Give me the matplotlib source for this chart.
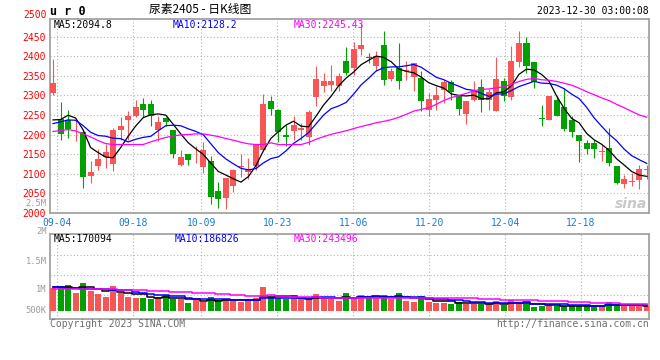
import numpy as np
import pandas as pd
import matplotlib.pyplot as plt

# daily K-line data for ur2405 (09-01 .. 12-29)
open_ = [2306.3, 2240.0, 2238.4, 2221.0, 2207.8, 2094.0, 2119.5, 2142.4, 2126.3, 2211.2,
         2238.4, 2248.6, 2279.1, 2279.1, 2211.2, 2241.8, 2212.9, 2123.7, 2149.3, 2155.0,
         2117.0, 2133.9, 2055.0, 2037.2, 2068.6, 2118.5, 2104.2, 2119.5, 2162.0, 2286.8,
         2263.9, 2199.3, 2208.7, 2212.9, 2194.2, 2296.1, 2323.3, 2325.8, 2323.3, 2388.6,
         2370.0, 2419.2, 2397.0, 2374.2, 2429.4, 2342.0, 2370.0, 2362.3, 2346.2, 2344.5,
         2263.9, 2289.3, 2313.0, 2333.5, 2297.8, 2253.6, 2289.3, 2321.6, 2287.6, 2261.3,
         2336.0, 2295.3, 2384.4, 2433.6, 2384.4, 2242.6, 2238.4, 2289.3, 2270.6, 2236.7,
         2200.2, 2179.0, 2179.0, 2155.7, 2166.2, 2119.5, 2072.8, 2079.3, 2083.9, 2109.3]
high_ = [2392.9, 2282.5, 2262.1, 2238.0, 2212.9, 2133.9, 2164.5, 2176.4, 2217.1, 2245.2,
         2259.6, 2287.6, 2294.4, 2287.6, 2248.6, 2245.2, 2212.9, 2162.0, 2149.3, 2170.5,
         2181.5, 2145.0, 2078.8, 2089.0, 2111.0, 2149.3, 2140.7, 2176.4, 2304.6, 2297.8,
         2266.4, 2225.7, 2248.6, 2229.9, 2263.9, 2374.2, 2357.2, 2378.5, 2357.2, 2423.5,
         2435.3, 2485.0, 2408.2, 2412.4, 2463.4, 2370.0, 2433.6, 2387.0, 2382.7, 2361.5,
         2306.3, 2323.3, 2340.3, 2340.3, 2302.1, 2285.0, 2336.0, 2342.0, 2316.5, 2397.1,
         2344.5, 2426.9, 2463.4, 2448.9, 2384.4, 2276.6, 2299.5, 2299.5, 2319.0, 2248.6,
         2200.2, 2187.4, 2187.4, 2174.7, 2217.1, 2119.5, 2096.6, 2100.8, 2123.7, 2121.2]
low_ = [2302.0, 2187.4, 2190.8, 2183.0, 2062.6, 2075.4, 2109.3, 2113.6, 2106.8, 2187.4,
        2187.4, 2245.2, 2245.2, 2223.1, 2183.2, 2221.4, 2139.9, 2119.5, 2122.1, 2128.0,
        2100.8, 2023.6, 2011.7, 2009.2, 2054.1, 2091.5, 2085.5, 2110.0, 2162.0, 2251.1,
        2181.5, 2172.1, 2185.7, 2187.4, 2174.7, 2272.3, 2308.0, 2310.5, 2310.5, 2353.0,
        2353.0, 2403.9, 2382.7, 2361.5, 2327.5, 2336.0, 2317.3, 2340.3, 2310.5, 2259.6,
        2246.9, 2262.1, 2280.8, 2289.3, 2251.1, 2228.2, 2285.0, 2257.0, 2263.9, 2261.3,
        2286.8, 2289.3, 2372.5, 2357.2, 2319.0, 2221.4, 2238.4, 2246.9, 2208.7, 2194.2,
        2129.7, 2149.3, 2140.7, 2132.3, 2119.5, 2072.8, 2064.3, 2068.6, 2061.8, 2087.2]
close_ = [2331.8, 2202.7, 2214.6, 2222.0, 2091.5, 2104.2, 2139.0, 2156.9, 2212.9, 2221.4,
          2248.6, 2269.8, 2263.9, 2248.6, 2233.3, 2233.3, 2151.8, 2142.4, 2134.8, 2156.0,
          2162.0, 2040.6, 2036.3, 2089.0, 2108.5, 2119.5, 2111.0, 2176.4, 2279.1, 2266.4,
          2206.1, 2193.4, 2225.7, 2216.3, 2257.9, 2342.0, 2336.0, 2337.7, 2348.7, 2357.2,
          2419.2, 2429.4, 2394.6, 2401.4, 2340.3, 2363.2, 2337.7, 2364.7, 2382.7, 2285.0,
          2291.9, 2300.4, 2333.5, 2308.0, 2266.4, 2285.0, 2310.5, 2287.6, 2308.0, 2342.8,
          2297.8, 2386.9, 2433.6, 2374.2, 2333.5, 2240.0, 2299.5, 2246.9, 2215.4, 2206.1,
          2183.2, 2164.5, 2164.5, 2158.3, 2128.0, 2075.4, 2085.5, 2081.8, 2112.7, 2111.8]
volume = [690000, 750000, 790000, 550000, 840000, 600000, 520000, 420000, 750000, 540000,
          420000, 390000, 390000, 370000, 420000, 480000, 350000, 350000, 240000, 320000,
          270000, 420000, 320000, 350000, 350000, 270000, 350000, 390000, 720000, 420000,
          390000, 350000, 390000, 370000, 350000, 510000, 390000, 370000, 300000, 540000,
          390000, 480000, 420000, 390000, 480000, 370000, 540000, 300000, 270000, 450000,
          270000, 250000, 250000, 220000, 270000, 220000, 220000, 200000, 200000, 300000,
          190000, 320000, 240000, 240000, 120000, 150000, 190000, 150000, 150000, 150000,
          150000, 150000, 150000, 150000, 270000, 190000, 150000, 150000, 150000, 150000]

# moving averages before enough bars exist (they use earlier sessions)
ma5_head = [2237.5, 2238.4, 2249.4, 2242.6]
ma10_head = [2228.2, 2232.4, 2237.5, 2236.7, 2223.0, 2206.1, 2197.6, 2195.9, 2190.8]
ma30_head = [2207.8, 2210.4, 2212.9, 2209.5, 2201.9, 2194.2, 2184.9, 2177.2, 2174.7, 2174.7,
             2174.7, 2174.7, 2174.7, 2181.5, 2187.4, 2192.5, 2196.8, 2199.3, 2200.2, 2201.9,
             2201.9, 2198.5, 2195.1, 2190.0, 2185.7, 2180.6, 2176.4, 2174.7, 2174.7]
vma5_head = [720000, 735000, 735000, 705000]
vma10_head = [720000, 720000, 705000, 690000, 675000, 675000, 660000, 660000, 645000]
vma30_head = [670000, 670000, 670000, 670000, 670000, 660000, 660000, 650000, 650000, 640000,
              630000, 630000, 620000, 610000, 600000, 590000, 580000, 570000, 560000, 550000,
              540000, 530000, 520000, 520000, 490000, 490000, 450000, 450000, 450000]

tick_idx = [1, 11, 20, 30, 40, 50, 60, 70]
tick_labels = ['09-04', '09-18', '10-09', '10-23', '11-06', '11-20', '12-04', '12-18']


def moving(values, n, head):
    m = pd.Series(values).rolling(n).mean().to_numpy()
    m[:n - 1] = head
    return m


o = np.array(open_)
h = np.array(high_)
l = np.array(low_)
c = np.array(close_)
v = np.array(volume)
x = np.arange(len(c))
up = c >= o
RED, GREEN = '#f65656', '#00a100'
colors = np.where(up, RED, GREEN)
GRID = '#b4b4b4'
FRAME = '#a3a3a3'
MONO = 'DejaVu Sans Mono'

fig = plt.figure(figsize=(6.6, 3.6), dpi=100)


def px(xp, yp):
    return xp / 660, 1 - yp / 360


ax = fig.add_axes([50 / 660, 1 - 213 / 360, 599 / 660, 194 / 360])
vax = fig.add_axes([50 / 660, 1 - 318.7 / 360, 599 / 660, 84.4 / 360])

tick_pos = [i * 1.01 - 0.45 for i in tick_idx]

# candles
ax.vlines(x, l, h, colors=colors, linewidth=0.8, zorder=3)
body = np.maximum(np.abs(c - o), 1.3)
ax.bar(x, body, bottom=np.minimum(o, c), width=0.8, color=colors, zorder=4)

ax.plot(x, moving(c, 5, ma5_head), color='black', lw=0.9, zorder=5)
ax.plot(x, moving(c, 10, ma10_head), color='#0000ff', lw=0.9, zorder=5)
ax.plot(x, moving(c, 30, ma30_head), color='#ff00ff', lw=0.9, zorder=5)

ax.set_xlim(-0.4, 79.3)
ax.set_ylim(2000, 2495)
ax.set_yticks(np.arange(2000, 2451, 50))
ax.set_xticks(tick_pos)
ax.set_xticklabels(tick_labels)
ax.tick_params(axis='y', length=0, pad=3, labelcolor='#ff0000', labelsize=7)
ax.tick_params(axis='x', length=0, pad=3.5, labelcolor='#1a7bd0', labelsize=7)
for t in ax.get_xticklabels() + ax.get_yticklabels():
    t.set_fontfamily(MONO)
ax.grid(True, color=GRID, linestyle=(0, (1, 2)), linewidth=0.8)

# volume
vax.bar(x, v, width=0.8, color=colors, zorder=3)
vax.plot(x, moving(v, 5, vma5_head), color='black', lw=1.1, drawstyle='steps-mid', zorder=4)
vax.plot(x, moving(v, 10, vma10_head), color='#0000ff', lw=1.1, drawstyle='steps-mid', zorder=4)
vax.plot(x, moving(v, 30, vma30_head), color='#ff00ff', lw=1.1, drawstyle='steps-mid', zorder=4)
vax.set_xlim(-0.4, 79.3)
vax.set_ylim(-231000, 2301000)
vax.set_yticks([471000, 1071000, 1671000])
vax.set_xticks(tick_pos)
vax.set_xticklabels([])
vax.set_yticklabels([])
vax.tick_params(length=0)
vax.grid(True, color=GRID, linestyle=(0, (1, 2)), linewidth=0.8)

for a in (ax, vax):
    for s in a.spines.values():
        s.set_color(FRAME)
        s.set_linewidth(1.3)

# volume axis labels (as drawn by the source, gray)
for lab, yp in [('2.5M', 203.5), ('2M', 231), ('1.5M', 261), ('1M', 290), ('500K', 310.3)]:
    fig.text(*px(46.5, yp), lab, color='#9a9a9a', fontsize=6.3, family=MONO, ha='right', va='center')
fig.text(*px(46.5, 15), '2500', color='#ff0000', fontsize=7, family=MONO, ha='right', va='center')

# header
fig.text(*px(50, 11.5), 'u r 0', fontsize=8.5, family=MONO, weight='bold', ha='left', va='center')
fig.text(*px(200, 9.5), '尿素2405 - 日K线图', fontsize=8.5,
         family=['Noto Sans CJK SC', 'DejaVu Sans'], ha='center', va='center')
fig.text(*px(649, 11.5), '2023-12-30 03:00:08', fontsize=7, family=MONO, ha='right', va='center')

fig.text(*px(54, 24.5), 'MA5:2094.8', fontsize=7, family=MONO, color='black', va='center')
fig.text(*px(173, 24.5), 'MA10:2128.2', fontsize=7, family=MONO, color='#0000ff', va='center')
fig.text(*px(294, 24.5), 'MA30:2245.43', fontsize=7, family=MONO, color='#ff00ff', va='center')

fig.text(*px(54, 239), 'MA5:170094', fontsize=7, family=MONO, color='black', va='center')
fig.text(*px(175, 239), 'MA10:186826', fontsize=7, family=MONO, color='#0000ff', va='center')
fig.text(*px(294, 239), 'MA30:243496', fontsize=7, family=MONO, color='#ff00ff', va='center')

fig.text(*px(50, 324), 'Copyright 2023 SINA.COM', fontsize=7, family=MONO, color='#6e6e6e', va='center')
fig.text(*px(649, 324), 'http://finance.sina.com.cn', fontsize=7, family=MONO, color='#6e6e6e',
         ha='right', va='center')

# watermark
fig.text(*px(647, 204), 'sina', fontsize=10, style='italic', weight='bold', color='#c8c8c8',
         ha='right', va='center', zorder=1)

fig.savefig('out.png', dpi=100, facecolor='white')
